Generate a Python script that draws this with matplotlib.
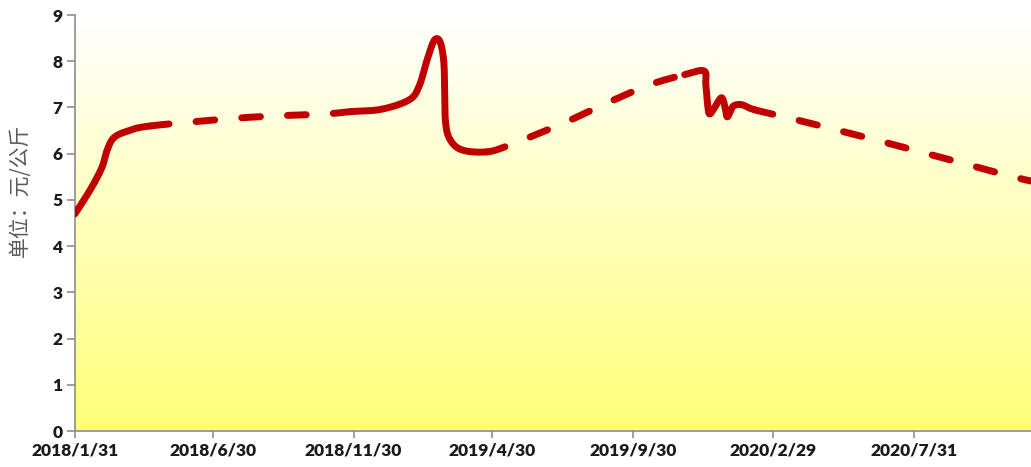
import matplotlib
matplotlib.use("Agg")
import matplotlib.pyplot as plt
import matplotlib.dates as mdates
import numpy as np
import pandas as pd

# price series (元/公斤)
dates = [
    "2018-01-31", "2018-02-16", "2018-03-01", "2018-03-07", "2018-03-14", "2018-03-28",
    "2018-04-23", "2018-07-21", "2018-09-10", "2018-10-31", "2018-11-27",
    "2018-12-30", "2019-01-29", "2019-02-09", "2019-02-19", "2019-02-26", "2019-03-04",
    "2019-03-08", "2019-03-09", "2019-03-10", "2019-03-15", "2019-03-28", "2019-04-24",
    "2019-05-19", "2019-07-16", "2019-09-02", "2019-10-18", "2019-11-25",
    "2019-12-16", "2019-12-18", "2019-12-20", "2019-12-22", "2019-12-27",
    "2020-01-04", "2020-01-08", "2020-01-10", "2020-01-13", "2020-01-17",
    "2020-01-26", "2020-02-09",
    "2020-03-20", "2020-05-07", "2020-06-25", "2020-08-13", "2020-10-02", "2020-11-20",
    "2020-12-10",
]
prices = [
    4.70, 5.20, 5.69, 6.08, 6.34, 6.48,
    6.60, 6.76, 6.82, 6.86, 6.91,
    6.96, 7.16, 7.45, 8.10, 8.46, 8.42,
    8.00, 7.38, 6.67, 6.30, 6.08, 6.04,
    6.19, 6.66, 7.10, 7.49, 7.71,
    7.79, 7.50, 7.05, 6.86, 6.98,
    7.21, 7.00, 6.80, 6.88, 7.03,
    7.06, 6.95,
    6.76, 6.52, 6.27, 6.01, 5.74, 5.48,
    5.39,
]
# dense (solid-looking) and sparse (dashed) stretches alternate at these dates
style_breaks = ["2018-04-23", "2018-11-27", "2019-04-24", "2019-11-25", "2020-02-09"]

tick_dates = ["2018-01-31", "2018-06-30", "2018-11-30", "2019-04-30",
              "2019-09-30", "2020-02-29", "2020-07-31"]
tick_labels = ["2018/1/31", "2018/6/30", "2018/11/30", "2019/4/30",
               "2019/9/30", "2020/2/29", "2020/7/31"]
y_ticks = list(range(0, 10))


def catmull_rom(px, py, n=24):
    # uniform Catmull-Rom through the points, like Excel's smoothed line
    px = np.concatenate([[2 * px[0] - px[1]], px, [2 * px[-1] - px[-2]]])
    py = np.concatenate([[2 * py[0] - py[1]], py, [2 * py[-1] - py[-2]]])
    xs, ys, idx = [], [], []
    t = np.linspace(0, 1, n, endpoint=False)
    for i in range(1, len(px) - 2):
        for arr, out in ((px, xs), (py, ys)):
            p0, p1, p2, p3 = arr[i - 1], arr[i], arr[i + 1], arr[i + 2]
            out.extend(0.5 * (2 * p1 + (-p0 + p2) * t + (2 * p0 - 5 * p1 + 4 * p2 - p3) * t ** 2
                              + (-p0 + 3 * p1 - 3 * p2 + p3) * t ** 3))
        idx.extend([i - 1] * n)
    xs.append(px[-2]); ys.append(py[-2]); idx.append(len(px) - 3)
    return np.array(xs), np.array(ys), np.array(idx)


x = mdates.date2num(pd.to_datetime(dates))
y = np.array(prices)
sx, sy, seg = catmull_rom(x, y)

fig = plt.figure(figsize=(10.31, 4.67), dpi=100)
ax = fig.add_axes([75 / 1031, 36 / 467, 960 / 1031, 416 / 467])

# white-to-yellow gradient fill of the plot area
grad = np.linspace(0, 1, 256).reshape(-1, 1)
top = np.array([1.0, 1.0, 1.0])
bottom = np.array([1.0, 1.0, 0.47])
img = top + (bottom - top) * grad[..., None]
ax.imshow(img, extent=[0, 1, 0, 1], transform=ax.transAxes, aspect="auto", zorder=0)

red = "#C00000"
break_idx = [dates.index(d) for d in style_breaks]
bounds = [0] + break_idx + [len(dates) - 1]
for k in range(len(bounds) - 1):
    a, b = bounds[k], bounds[k + 1]
    sel = np.where((seg >= a) & (seg < b))[0]
    last = np.where(seg == b)[0]
    if len(last):
        sel = np.append(sel, last[0])
    ls = "-" if k % 2 == 0 else (0, (2.7, 3.9))
    ax.plot(sx[sel], sy[sel], color=red, lw=5.0, ls=ls,
            solid_capstyle="round", dash_capstyle="round", zorder=3)

ax.set_xlim(x[0], mdates.date2num(pd.Timestamp("2020-12-10")))
ax.set_ylim(0, 9)
ax.set_yticks(y_ticks)
ax.set_xticks(mdates.date2num(pd.to_datetime(tick_dates)))
ax.set_xticklabels(tick_labels)

for s in ("top", "right"):
    ax.spines[s].set_visible(False)
for s in ("left", "bottom"):
    ax.spines[s].set_color("#8c8c8c")
    ax.spines[s].set_linewidth(1.2)
ax.tick_params(axis="y", length=6, width=1.2, color="#8c8c8c", pad=3)
ax.tick_params(axis="x", length=5, width=1.2, color="#8c8c8c", pad=3)
for lab in ax.get_xticklabels() + ax.get_yticklabels():
    lab.set_fontfamily(["Lato", "DejaVu Sans"])
    lab.set_fontweight("heavy")
    lab.set_fontsize(12.5)
    lab.set_color("#1a1a1a")

fig.text(20 / 1031, 1 - 190 / 467, "单位：元/公斤", rotation=90, ha="center", va="center",
         fontsize=15, color="#595959", family=["Noto Sans CJK SC", "DejaVu Sans"])

fig.savefig("out.png", dpi=100, facecolor="white")
